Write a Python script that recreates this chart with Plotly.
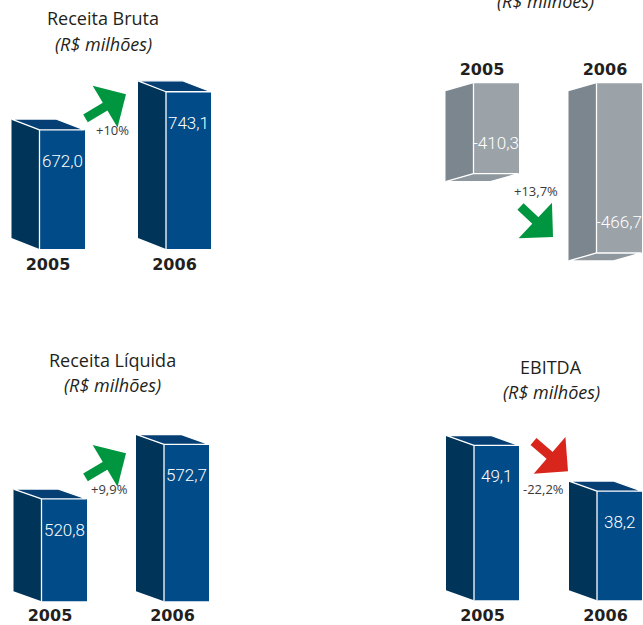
import plotly.graph_objects as go

# ---------------- data ----------------
years = ["2005", "2006"]
receita_bruta = [672.0, 743.1]
custos = [-410.3, -466.7]
receita_liquida = [520.8, 572.7]
ebitda = [49.1, 38.2]
variacoes = ["+10%", "+13,7%", "+9,9%", "-22,2%"]
titulos = [["Receita Bruta", "(R$ milhões)"],
           ["", "(R$ milhões)"],
           ["Receita Líquida", "(R$ milhões)"],
           ["EBITDA", "(R$ milhões)"]]

# ---------------- style / layout ----------------
W, H = 643, 625
BLUE = dict(front="#004b88", side="#003459", top="#063f74")
GRAY = dict(front="#9ba2a8", side="#7b868e", top="#8e979d")
BW, DX = 45, 28          # bar width and depth (px)
TXT = "#231f20"
VAL_FONT = dict(family="Roboto, Liberation Sans Narrow, sans-serif", size=17,
                color="white", weight=300)

# box = (left, right, top, bottom) px ; x0 = px of first bar centre ; ux = px per category
panels = [
    dict(vals=receita_bruta, col=BLUE, box=(0, 320, 60, 251), x0=62, ux=126.5,
         yr=(450.4, 803.1), neg=False, dy=11, side="bottom", so=4),
    dict(vals=custos, col=GRAY, box=(322, 643, 84, 280), x0=496, ux=123,
         yr=(-484.3, -346.1), neg=True, dy=8, side="top", so=4),
    dict(vals=receita_liquida, col=BLUE, box=(0, 320, 420, 606), x0=64, ux=122.5,
         yr=(423.6, 599.1), neg=False, dy=10, side="bottom", so=3),
    dict(vals=ebitda, col=BLUE, box=(322, 643, 420, 605), x0=496.5, ux=123,
         yr=(12.13, 55.97), neg=False, dy=10, side="bottom", so=4),
]

fig = go.Figure()
annotations = []

for k, p in enumerate(panels):
    sfx = "" if k == 0 else str(k + 1)
    xa, ya = "x" + sfx, "y" + sfx
    L, R, T, B = p["box"]
    ux = p["ux"]
    y0, y1 = p["yr"]
    sc = (B - T) / (y1 - y0)
    hw = BW / 2 / ux
    dxu = DX / ux
    dyu = p["dy"] / sc
    col = p["col"]

    xr = [(L - p["x0"]) / ux, (R - p["x0"]) / ux]
    fig.layout["xaxis" + sfx] = dict(
        domain=[L / W, R / W], range=xr, anchor=ya, side=p["side"],
        showgrid=False, zeroline=False, showline=False, ticks="",
        tickvals=[i - dxu / 2 for i in range(len(years))], ticktext=years,
        tickfont=dict(family="DejaVu Sans", size=16, color=TXT, weight="bold"),
        ticklabelstandoff=p["so"], fixedrange=True)
    fig.layout["yaxis" + sfx] = dict(
        domain=[1 - B / H, 1 - T / H], range=[y0, y1], anchor=xa,
        visible=False, fixedrange=True)

    # front faces
    fig.add_trace(go.Bar(x=list(range(len(years))), y=p["vals"], width=BW / ux,
                         marker=dict(color=col["front"], line=dict(width=0)),
                         xaxis=xa, yaxis=ya, showlegend=False, hoverinfo="skip"))

    for i, v in enumerate(p["vals"]):
        xl, xrt = i - hw, i + hw
        if not p["neg"]:
            base = y0
            side_x = [xl, xl, xl - dxu, xl - dxu, xl]
            side_y = [base, v, v + dyu, base + dyu, base]
            cap_x = [xl, xrt, xrt - dxu, xl - dxu, xl]
            cap_y = [v, v, v + dyu, v + dyu, v]
            ys = -31
        else:
            base = y1
            side_x = [xl, xl, xl - dxu, xl - dxu, xl]
            side_y = [base, v, v - dyu, base - dyu, base]
            cap_x = [xl, xrt, xrt - dxu, xl - dxu, xl]
            cap_y = [v, v, v - dyu, v - dyu, v]
            ys = 31
        fig.add_trace(go.Scatter(x=side_x, y=side_y, mode="lines", fill="toself",
                                 fillcolor=col["side"], line=dict(width=0),
                                 xaxis=xa, yaxis=ya, showlegend=False, hoverinfo="skip"))
        fig.add_trace(go.Scatter(x=cap_x, y=cap_y, mode="lines", fill="toself",
                                 fillcolor=col["top"], line=dict(width=1.3, color="white"),
                                 xaxis=xa, yaxis=ya, showlegend=False, hoverinfo="skip"))
        fig.add_trace(go.Scatter(x=[xl, xl], y=[base, v], mode="lines",
                                 line=dict(width=1.3, color="white"),
                                 xaxis=xa, yaxis=ya, showlegend=False, hoverinfo="skip"))
        annotations.append(dict(
            x=i, y=v, xref=xa, yref=ya, yshift=ys, showarrow=False,
            xanchor="center", yanchor="middle",
            text=f"{v:.1f}".replace(".", ","), font=VAL_FONT))


def px(xp, yp):
    return xp / W, 1 - yp / H


# titles
title_pos = [(103, 18, 44), (545, -24, 1), (112, 363, 388), (551, 370, 395)]
for (l1, l2), (cx, t1, t2) in zip(titulos, title_pos):
    if l1:
        x, y = px(cx, t1)
        annotations.append(dict(x=x, y=y, xref="paper", yref="paper", text=l1,
                                showarrow=False, xanchor="center", yanchor="middle",
                                font=dict(family="Open Sans", size=18, color=TXT)))
    x, y = px(cx, t2)
    annotations.append(dict(x=x, y=y, xref="paper", yref="paper", text="<i>" + l2 + "</i>",
                            showarrow=False, xanchor="center", yanchor="middle",
                            font=dict(family="Open Sans", size=18, color=TXT)))

# change labels
var_pos = [(112, 131), (536, 193), (110, 493), (543, 493)]
for t, (cx, cy) in zip(variacoes, var_pos):
    x, y = px(cx, cy)
    annotations.append(dict(x=x, y=y, xref="paper", yref="paper", text=t, showarrow=False,
                            xanchor="center", yanchor="middle",
                            font=dict(family="Open Sans", size=13, color="#3a3a3a")))

# arrows (tip, tail)
arrows = [((126, 95), (84, 120), "#00953f"),
          ((553, 239), (519, 207), "#00953f"),
          ((126, 457), (84, 482), "#00953f"),
          ((568, 475), (532, 444), "#d8261c")]
for (tx, ty), (sx, sy), c in arrows:
    x, y = px(tx, ty)
    annotations.append(dict(x=x, y=y, xref="paper", yref="paper", ax=sx - tx, ay=sy - ty,
                            text="", showarrow=True, arrowhead=1, arrowsize=0.9,
                            arrowwidth=9, arrowcolor=c))

fig.update_layout(width=W, height=H, margin=dict(l=0, r=0, t=0, b=0),
                  paper_bgcolor="white", plot_bgcolor="rgba(0,0,0,0)",
                  annotations=annotations, bargap=0, showlegend=False)

post = (
    "var d=document.documentElement,b=document.body;"
    "[d,b].forEach(function(e){e.style.margin='0';e.style.padding='0';"
    "e.style.overflow='hidden';e.style.height='625px';});"
    "document.querySelectorAll('.main-svg').forEach(function(s){s.style.overflow='hidden';});"
)
fig.write_html("out.html", config={"displayModeBar": False, "staticPlot": True},
               post_script=post)
